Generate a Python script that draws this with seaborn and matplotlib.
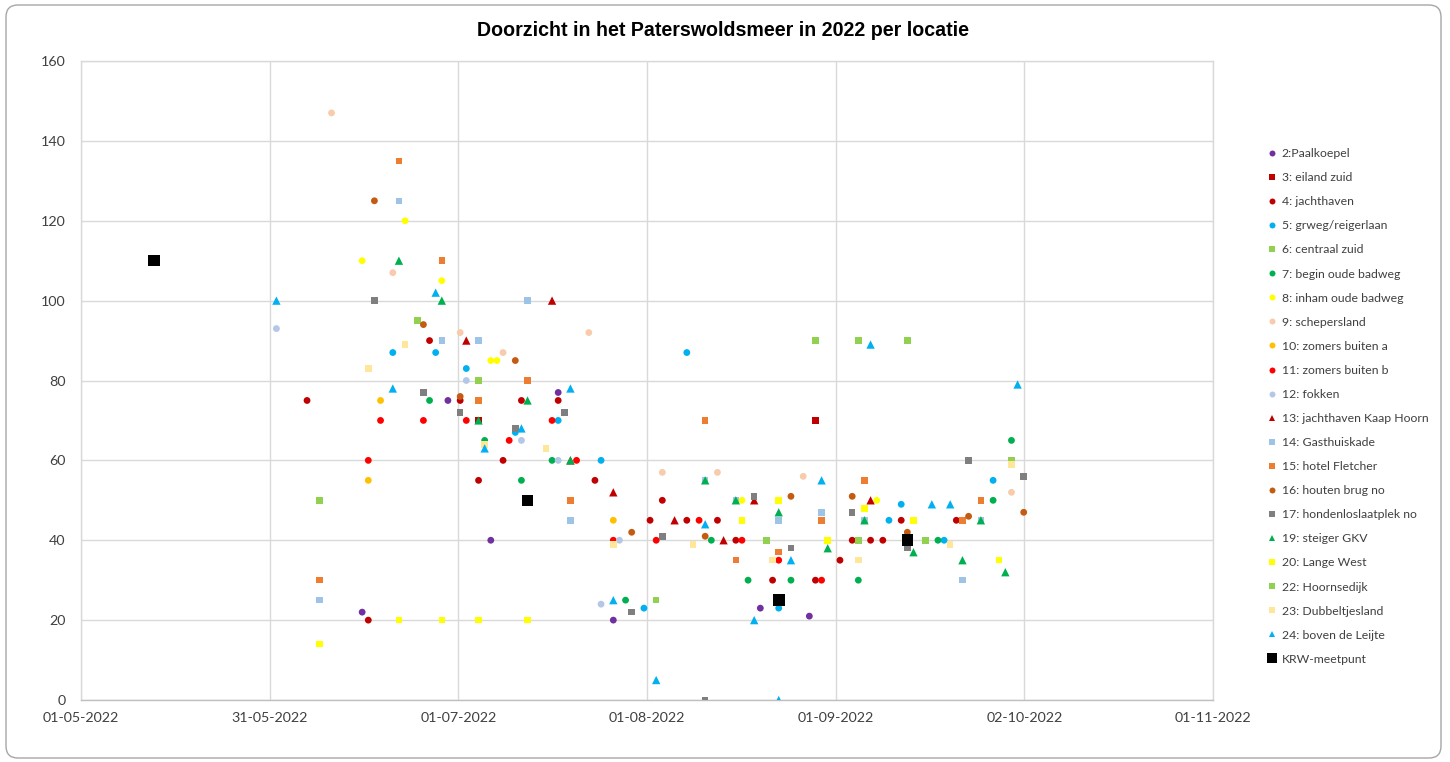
import matplotlib
matplotlib.use("Agg")
import matplotlib.pyplot as plt
import matplotlib.transforms as mtransforms
from matplotlib.lines import Line2D
from matplotlib.patches import FancyBboxPatch
import matplotlib.dates as mdates
import numpy as np
import pandas as pd
import seaborn as sns


""" doorzicht (cm) per locatie, afgelezen uit de grafiek """

paalkoepel = [("2022-06-16", 22), ("2022-06-30", 75), ("2022-07-07", 40), ("2022-07-18", 77),
              ("2022-07-27", 20), ("2022-08-20", 23), ("2022-08-28", 21)]
eiland_zuid = [("2022-07-05", 70), ("2022-08-29", 70)]
jachthaven = [("2022-06-07", 75), ("2022-06-17", 20), ("2022-06-27", 90), ("2022-07-02", 75),
              ("2022-07-05", 55), ("2022-07-09", 60), ("2022-07-12", 75), ("2022-07-18", 75),
              ("2022-07-24", 55), ("2022-08-02", 45), ("2022-08-04", 50), ("2022-08-08", 45),
              ("2022-08-13", 45), ("2022-08-16", 40), ("2022-08-22", 30), ("2022-08-29", 30),
              ("2022-09-02", 35), ("2022-09-04", 40), ("2022-09-07", 40), ("2022-09-09", 40),
              ("2022-09-12", 45), ("2022-09-21", 45)]
grweg = [("2022-06-21", 87), ("2022-06-28", 87), ("2022-07-03", 83), ("2022-07-11", 67),
         ("2022-07-18", 70), ("2022-07-25", 60), ("2022-08-01", 23), ("2022-08-08", 87),
         ("2022-08-23", 23), ("2022-09-10", 45), ("2022-09-12", 49), ("2022-09-19", 40),
         ("2022-09-27", 55)]
centraal_zuid = [("2022-06-25", 95), ("2022-07-05", 80), ("2022-08-29", 90), ("2022-09-05", 40),
                 ("2022-09-30", 60)]
begin_badweg = [("2022-06-27", 75), ("2022-07-06", 65), ("2022-07-12", 55), ("2022-07-17", 60),
                ("2022-07-29", 25), ("2022-08-12", 40), ("2022-08-18", 30), ("2022-08-25", 30),
                ("2022-09-05", 30), ("2022-09-18", 40), ("2022-09-27", 50), ("2022-09-30", 65)]
inham_badweg = [("2022-06-16", 110), ("2022-06-23", 120), ("2022-06-29", 105), ("2022-07-07", 85),
                ("2022-07-08", 85), ("2022-08-17", 50), ("2022-09-08", 50)]
schepersland = [("2022-06-11", 147), ("2022-06-21", 107), ("2022-07-02", 92), ("2022-07-09", 87),
                ("2022-07-23", 92), ("2022-08-04", 57), ("2022-08-13", 57), ("2022-08-27", 56),
                ("2022-09-30", 52)]
zomers_a = [("2022-06-17", 55), ("2022-06-19", 75), ("2022-07-27", 45)]
zomers_b = [("2022-06-17", 60), ("2022-06-19", 70), ("2022-06-26", 70), ("2022-07-03", 70),
            ("2022-07-10", 65), ("2022-07-17", 70), ("2022-07-21", 60), ("2022-07-27", 40),
            ("2022-08-03", 40), ("2022-08-10", 45), ("2022-08-17", 40), ("2022-08-23", 35),
            ("2022-08-30", 30)]
fokken = [("2022-06-02", 93), ("2022-07-03", 80), ("2022-07-12", 65), ("2022-07-18", 60),
          ("2022-07-25", 24), ("2022-07-28", 40)]
kaap_hoorn = [("2022-07-03", 90), ("2022-07-17", 100), ("2022-07-20", 60), ("2022-07-27", 52),
              ("2022-08-06", 45), ("2022-08-14", 40), ("2022-08-19", 50), ("2022-09-07", 50)]
gasthuiskade = [("2022-06-09", 25), ("2022-06-22", 125), ("2022-06-29", 90), ("2022-07-05", 90),
                ("2022-07-13", 100), ("2022-07-20", 45), ("2022-08-11", 55), ("2022-08-16", 50),
                ("2022-08-23", 45), ("2022-08-30", 47), ("2022-09-06", 45), ("2022-09-22", 30),
                ("2022-09-25", 45)]
fletcher = [("2022-06-09", 30), ("2022-06-22", 135), ("2022-06-29", 110), ("2022-07-05", 75),
            ("2022-07-13", 80), ("2022-07-20", 50), ("2022-08-11", 70), ("2022-08-16", 35),
            ("2022-08-23", 37), ("2022-08-30", 45), ("2022-09-06", 55), ("2022-09-22", 45),
            ("2022-09-25", 50)]
houten_brug = [("2022-06-18", 125), ("2022-06-26", 94), ("2022-07-02", 76), ("2022-07-11", 85),
               ("2022-07-30", 42), ("2022-08-11", 41), ("2022-08-25", 51), ("2022-09-04", 51),
               ("2022-09-13", 42), ("2022-09-23", 46), ("2022-10-02", 47)]
hondenlosloop = [("2022-06-18", 100), ("2022-06-26", 77), ("2022-07-02", 72), ("2022-07-11", 68),
                 ("2022-07-19", 72), ("2022-07-30", 22), ("2022-08-04", 41), ("2022-08-11", 0),
                 ("2022-08-19", 51), ("2022-08-25", 38), ("2022-09-04", 47), ("2022-09-13", 38),
                 ("2022-09-23", 60), ("2022-10-02", 56)]
steiger_gkv = [("2022-06-22", 110), ("2022-06-29", 100), ("2022-07-05", 70), ("2022-07-13", 75),
               ("2022-07-20", 60), ("2022-08-11", 55), ("2022-08-16", 50), ("2022-08-23", 47),
               ("2022-08-31", 38), ("2022-09-06", 45), ("2022-09-14", 37), ("2022-09-22", 35),
               ("2022-09-25", 45), ("2022-09-29", 32)]
lange_west = [("2022-06-09", 14), ("2022-06-22", 20), ("2022-06-29", 20), ("2022-07-05", 20),
              ("2022-07-13", 20), ("2022-08-17", 45), ("2022-08-23", 50), ("2022-08-31", 40),
              ("2022-09-06", 48), ("2022-09-14", 45), ("2022-09-28", 35)]
hoornsedijk = [("2022-06-09", 50), ("2022-08-03", 25), ("2022-08-21", 40), ("2022-09-05", 90),
               ("2022-09-13", 90), ("2022-09-16", 40)]
dubbeltjesland = [("2022-06-17", 83), ("2022-06-23", 89), ("2022-07-06", 64), ("2022-07-16", 63),
                  ("2022-07-27", 39), ("2022-08-09", 39), ("2022-08-22", 35), ("2022-09-05", 35),
                  ("2022-09-20", 39), ("2022-09-30", 59)]
boven_leijte = [("2022-06-02", 100), ("2022-06-21", 78), ("2022-06-28", 102), ("2022-07-06", 63),
                ("2022-07-12", 68), ("2022-07-20", 78), ("2022-07-27", 25), ("2022-08-03", 5),
                ("2022-08-11", 44), ("2022-08-19", 20), ("2022-08-23", 0), ("2022-08-25", 35),
                ("2022-08-30", 55), ("2022-09-07", 89), ("2022-09-17", 49), ("2022-09-20", 49),
                ("2022-10-01", 79)]
krw_meetpunt = [("2022-05-13", 110), ("2022-07-13", 50), ("2022-08-23", 25), ("2022-09-13", 40)]

series = [
    ("2:Paalkoepel", paalkoepel),
    ("3: eiland zuid", eiland_zuid),
    ("4: jachthaven", jachthaven),
    ("5: grweg/reigerlaan", grweg),
    ("6: centraal zuid", centraal_zuid),
    ("7: begin oude badweg", begin_badweg),
    ("8: inham oude badweg", inham_badweg),
    ("9: schepersland", schepersland),
    ("10: zomers buiten a", zomers_a),
    ("11: zomers buiten b", zomers_b),
    ("12: fokken", fokken),
    ("13: jachthaven Kaap Hoorn", kaap_hoorn),
    ("14: Gasthuiskade", gasthuiskade),
    ("15: hotel Fletcher", fletcher),
    ("16: houten brug no", houten_brug),
    ("17: hondenloslaatplek no", hondenlosloop),
    ("19: steiger GKV", steiger_gkv),
    ("20: Lange West", lange_west),
    ("22: Hoornsedijk", hoornsedijk),
    ("23: Dubbeltjesland", dubbeltjesland),
    ("24: boven de Leijte", boven_leijte),
    ("KRW-meetpunt", krw_meetpunt),
]

x_tick_labels = ["01-05-2022", "31-05-2022", "01-07-2022", "01-08-2022",
                 "01-09-2022", "02-10-2022", "01-11-2022"]

""" opmaak per reeks """
colours = ["#7030A0", "#C00000", "#C00000", "#00B0F0", "#92D050", "#00B050", "#FFFF00",
           "#F8CBAD", "#FFC000", "#FF0000", "#B4C7E7", "#C00000", "#9DC3E6", "#ED7D31",
           "#C55A11", "#7F7F7F", "#00B050", "#FFFF00", "#92D050", "#FFE699", "#00B0F0", "#000000"]
markers = ["o", "s", "o", "o", "s", "o", "o", "o", "o", "o", "o", "^", "s", "s",
           "o", "s", "^", "s", "s", "s", "^", "s"]
marker_area = {"o": 24, "s": 22, "^": 36}

labels = [name for name, _ in series]
rows = []
for name, pts in series:
    for d, v in pts:
        rows.append((name, pd.Timestamp(d), v))
df = pd.DataFrame(rows, columns=["locatie", "datum", "doorzicht"])

palette = dict(zip(labels, colours))
marker_map = dict(zip(labels, markers))
sizes = {l: marker_area[m] for l, m in zip(labels, markers)}
sizes["KRW-meetpunt"] = 70

sns.set_style("white")
plt.rcParams["font.family"] = ["Lato", "DejaVu Sans"]

fig = plt.figure(figsize=(14.5, 7.62), dpi=100)
ax = fig.add_axes([81 / 1450, 1 - 700 / 762, (1213 - 81) / 1450, (700 - 61) / 762])

sns.scatterplot(data=df, x="datum", y="doorzicht", hue="locatie", style="locatie",
                size="locatie", palette=palette, markers=marker_map, sizes=sizes,
                linewidth=0, legend=False, ax=ax, zorder=3)

# excel-achtige datumas
start = mdates.date2num(pd.Timestamp("2022-05-01")) + 0.1
step = 30.8
ticks = [start + k * step for k in range(7)]
ax.set_xlim(ticks[0], ticks[-1])
ax.set_xticks(ticks)
ax.set_xticklabels(x_tick_labels)
ax.set_ylim(0, 160)
ax.set_yticks(np.arange(0, 161, 20))

ax.grid(True, color="#D9D9D9", linewidth=1)
ax.set_axisbelow(True)
for s in ax.spines.values():
    s.set_color("#D9D9D9")
    s.set_linewidth(1)
ax.spines["bottom"].set_color("#BFBFBF")
ax.tick_params(axis="both", length=0, labelsize=10.3, colors="#404040")
ax.tick_params(axis="y", pad=11)
ax.tick_params(axis="x", pad=9)
ax.set_xlabel("")
ax.set_ylabel("")

fig.text(0.4986, 1 - 30 / 762, "Doorzicht in het Paterswoldsmeer in 2022 per locatie",
         ha="center", va="center", fontsize=14.1, fontweight="bold", color="#000000",
         family=["Liberation Sans", "DejaVu Sans"])

handles = []
for name, c, m in zip(labels, colours, markers):
    ms = 7.5 if name == "KRW-meetpunt" else (5 if m == "^" else 4.3)
    handles.append(Line2D([], [], marker=m, color=c, linestyle="", markersize=ms,
                          markeredgewidth=0))
fig.legend(handles, labels, loc="upper left", bbox_to_anchor=(1261 / 1450, 1 - 142 / 762),
           frameon=False, fontsize=8.8, labelspacing=1.07, handlelength=0.8,
           handletextpad=0.4, borderpad=0, labelcolor="#404040")

# rand om de grafiek
border = FancyBboxPatch((6, 4), 1435, 753, boxstyle="round,pad=0,rounding_size=12",
                        transform=mtransforms.IdentityTransform(), fill=False,
                        edgecolor="#A6A6A6", linewidth=1)
fig.add_artist(border)

fig.savefig("out.png", dpi=100)
plt.close(fig)
